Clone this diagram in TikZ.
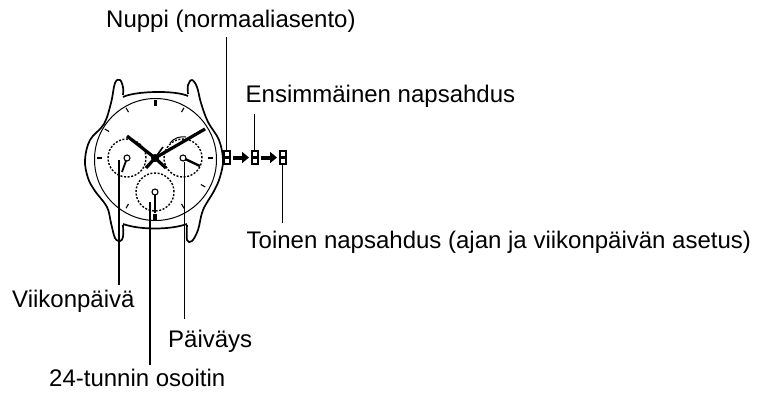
\documentclass[tikz,border=0pt]{standalone}
\usepackage{fontspec}
\setmainfont{Liberation Sans}
\usetikzlibrary{positioning,arrows.meta,calc}

\begin{document}
\begin{tikzpicture}[
  x=1pt, y=-1pt,
  lbl/.style={font=\fontsize{24}{26}\selectfont, inner sep=0pt, anchor=base west},
  crown/.style={draw=black, line width=2pt, fill=white, minimum width=6pt, minimum height=12.5pt, inner sep=0pt,
    path picture={\fill[black] ($(path picture bounding box.west)+(0,-1.2)$) rectangle ($(path picture bounding box.east)+(0,1.2)$);}},
  arr/.style={-{Stealth[length=7pt,width=11pt,inset=0pt]}, line width=4pt, shorten <=2pt, shorten >=1.5pt},
  leader/.style={line width=1.2pt},
  subdial/.style={circle, draw=black, line width=1.4pt, dash pattern=on 2pt off 1.6pt, minimum size=38pt, inner sep=0pt},
  pivot/.style={circle, draw=black, line width=1.1pt, fill=white, minimum size=6pt, inner sep=0pt},
  case/.style={line width=1.7pt, line join=round}
]
\useasboundingbox (0,0) rectangle (760,392);

% labels
\node[lbl] (nuppi) at (106,27) {Nuppi (normaaliasento)};
\node[lbl] (first) at (245.5,102) {Ensimmäinen napsahdus};
\node[lbl] (second) at (246.5,248) {Toinen napsahdus (ajan ja viikonpäivän asetus)};
\node[lbl] (weekday) at (12,307) {Viikonpäivä};
\node[lbl] (date) at (168,347) {Päiväys};
\node[lbl] (hours) at (49,386) {24-tunnin osoitin};

% case and lugs
\draw[case] plot[smooth, tension=.6] coordinates {(123,95) (123,87) (120,80) (115,83) (111,103) (104,124) (90,140) (85,160) (88,178) (95,191) (107,207) (111,223) (115,238) (120,241) (123,237) (123,225)};
\draw[case] plot[smooth, tension=.6] coordinates {(188,94) (188,85) (192,80) (197,87) (201,103) (208,122) (219,140) (223,160) (220,177) (214,191) (203,210) (198,230) (192,241) (187,240) (187,225)};
\draw[case] (123,97) .. controls (135,91) and (175,90) .. (188,96);
\draw[case] (123,224) .. controls (140,230) and (170,230) .. (187,224);
\draw[line width=1pt] (155.5,159.5) circle[radius=61];

% hour marks
\foreach \a in {0,60,120,150,180,210,240,300,330} {
  \draw[line width=1.1pt] ($(155,158)+(\a:-53 and 53)$) -- ($(155,158)+(\a:-58 and 58)$);
}
\draw[line width=3.5pt] (155.5,100) -- (155.5,106);
\draw[line width=3.5pt] (155,214) -- (155,220);

% small dials
\node[subdial] (dayDial) at (127,158) {};
\node[subdial] (dateDial) at (183,158) {};
\node[subdial] (hourDial) at (155,192) {};

% hands
\coordinate (hub) at (155,158);
\draw[line width=3.2pt] (127,136) -- (hub) -- (146,168);
\draw[line width=3.2pt] (205,129) -- (hub) -- (166,168);
\draw[line width=1.6pt] (163,147) -- (155,158);
\draw[line width=1pt] (170,143) .. controls (174,138) and (180,136) .. (186,137);
\fill (hub) circle[radius=4];
\draw[line width=1.8pt] (dayDial.center) -- (122,172);
\draw[line width=2.4pt] (dateDial.center) -- (200,166);
\draw[line width=1.4pt] (hourDial.center) -- (155,213);
\node[pivot] (dayPivot) at (127,158) {};
\node[pivot] (datePivot) at (183,158) {};
\node[pivot] (hourPivot) at (155,192) {};

% crown positions
\node[crown] (crownA) at (226.5,157.5) {};
\node[crown, right=20pt of crownA] (crownB) {};
\node[crown, right=20pt of crownB] (crownC) {};
\draw[arr] (crownA) -- (crownB);
\draw[arr] (crownB) -- (crownC);

% leaders
\coordinate (dayEnd) at (119,285);
\coordinate (dateEnd) at (184.5,319);
\coordinate (hourEnd) at (150,365);
\coordinate (dayStart) at (119,160);
\coordinate (dateStart) at (184.5,162);
\coordinate (hourStart) at (150,202);
\draw[leader] (crownA.north) -- (crownA.north |- 0,37);
\draw[leader] (crownB.north) -- (crownB.north |- 0,114);
\draw[leader] (crownC.south) -- (crownC.south |- 0,223);
\draw[leader] (dayStart) -- (dayEnd);
\draw[leader] (dateStart) -- (dateEnd);
\draw[leader] (hourStart) -- (hourEnd);
\end{tikzpicture}
\end{document}
